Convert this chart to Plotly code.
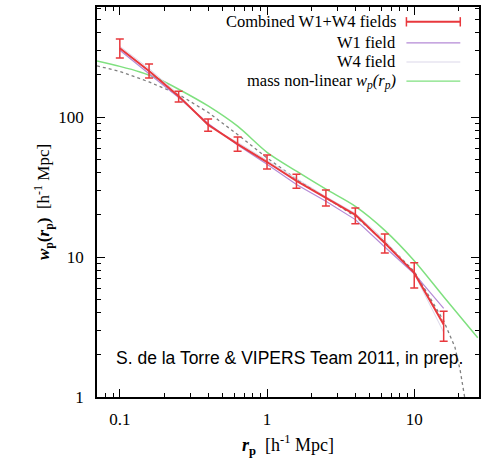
import plotly.graph_objects as go

# Combined W1+W4 measurements
rp = [0.1, 0.158, 0.251, 0.398, 0.631, 1.0, 1.585, 2.512, 3.981, 6.31, 10.0, 15.85]
wp_comb = [310, 213, 141, 88, 64, 47.7, 35, 26.4, 20, 12.6, 7.7, 3.3]
wp_hi = [361, 239, 153, 97, 72, 53.5, 39, 30.1, 22.4, 14.6, 9.1, 4.1]
wp_lo = [264, 190, 128, 79, 57, 42.5, 31, 23.1, 17.3, 10.7, 6.0, 2.5]

# W1 and W4 fields
wp_w1 = [300, 205, 138, 90, 63, 46, 33, 25, 18.5, 11.8, 7.6, 4.3]
wp_w4 = [320, 222, 145, 86, 66, 49, 36, 27, 20.5, 13.2, 7.6, 2.9]

# mass non-linear model
rp_nl = [0.07, 0.1, 0.137, 0.178, 0.251, 0.398, 0.631, 1.0, 1.585, 2.512, 3.981, 6.31, 10.0, 15.85, 27.0]
wp_nl = [251, 230, 210, 190, 158, 120, 86, 56, 41, 30.5, 23, 15.5, 9.4, 5.2, 2.65]

# dotted model
rp_dot = [0.07, 0.1, 0.158, 0.251, 0.398, 0.631, 1.0, 1.585, 2.512, 3.981, 6.31, 10.0, 15.85, 18.9, 20.5, 22.0]
wp_dot = [232, 212, 178, 145, 108, 75, 51, 36, 26.5, 19.5, 12.8, 7.9, 3.5, 2.27, 1.56, 1.0]

RED = "#e8383d"
PURPLE = "#b48ad6"
W4C = "#dcd8ea"
GREEN = "#7fe07f"

err_plus = [h - v for h, v in zip(wp_hi, wp_comb)]
err_minus = [v - l for l, v in zip(wp_lo, wp_comb)]

fig = go.Figure()
fig.add_trace(go.Scatter(x=rp_nl, y=wp_nl, mode="lines", line=dict(color=GREEN, width=1.5, shape="spline", smoothing=0.8), showlegend=False))
fig.add_trace(go.Scatter(x=rp_dot, y=wp_dot, mode="lines", line=dict(color="#808080", width=1.3, dash="dot"), showlegend=False))
fig.add_trace(go.Scatter(x=rp, y=wp_w4, mode="lines", line=dict(color=W4C, width=1), showlegend=False))
fig.add_trace(go.Scatter(x=rp, y=wp_w1, mode="lines", line=dict(color=PURPLE, width=1.2), showlegend=False))
fig.add_trace(go.Scatter(x=rp, y=wp_comb, mode="lines", line=dict(color=RED, width=2),
                         error_y=dict(type="data", symmetric=False, array=err_plus, arrayminus=err_minus,
                                      color=RED, thickness=1.5, width=4),
                         showlegend=False))

serif = "Liberation Serif, Times New Roman, serif"

minor_x = [m * d for d in [0.01, 0.1, 1, 10] for m in range(2, 10)]
minor_y = [m * d for d in [1, 10, 100] for m in range(2, 10)]

fig.update_xaxes(type="log", range=[-1.155, 1.44], tickvals=[0.1, 1, 10], ticktext=["0.1", "1", "10"],
                 ticks="inside", ticklen=8, tickcolor="black", showline=True, linecolor="black", linewidth=1.5,
                 mirror="allticks", showgrid=False, zeroline=False, ticklabelstandoff=6,
                 minor=dict(tickvals=minor_x, ticks="inside", ticklen=4, tickcolor="black", showgrid=False),
                 tickfont=dict(family=serif, size=17, color="black"),
                 title=dict(text="<b><i>r</i><sub>p</sub></b>  [h<sup>-1</sup> Mpc]", font=dict(family=serif, size=18, color="black"), standoff=10))
fig.update_yaxes(type="log", range=[0, 2.786], tickvals=[1, 10, 100], ticktext=["1", "10", "100"],
                 ticks="inside", ticklen=8, tickcolor="black", showline=True, linecolor="black", linewidth=1.5,
                 mirror="allticks", showgrid=False, zeroline=False, ticklabelstandoff=8,
                 minor=dict(tickvals=minor_y, ticks="inside", ticklen=4, tickcolor="black", showgrid=False),
                 tickfont=dict(family=serif, size=17, color="black"),
                 title=dict(text="<b><i>w</i><sub>p</sub>(<i>r</i><sub>p</sub>)</b>  [h<sup>-1</sup> Mpc]", font=dict(family=serif, size=17, color="black"), standoff=4))

# custom legend (text right-aligned, sample on right)
leg_rows = [
    ("Combined W1+W4 fields", RED, 0.962),
    ("W1 field", PURPLE, 0.908),
    ("W4 field", W4C, 0.859),
    ("mass non-linear <i>w<sub>p</sub>(r<sub>p</sub>)</i>", GREEN, 0.81),
]
shapes = []
annotations = []
x0, x1 = 0.81, 0.951
for txt, col, yy in leg_rows:
    annotations.append(dict(x=0.789, y=yy, xref="paper", yref="paper", text=txt, showarrow=False,
                            xanchor="right", yanchor="middle", font=dict(family=serif, size=16.5, color="black")))
    w = 2 if col == RED else 1.2
    shapes.append(dict(type="line", xref="paper", yref="paper", x0=x0, x1=x1, y0=yy, y1=yy, line=dict(color=col, width=w)))
    if col == RED:
        for xe in (x0, x1):
            shapes.append(dict(type="line", xref="paper", yref="paper", x0=xe, x1=xe, y0=yy - 0.012, y1=yy + 0.012,
                               line=dict(color=col, width=1.5)))

annotations.append(dict(x=0.503, y=0.1, xref="paper", yref="paper", text="S. de la Torre &amp; VIPERS Team 2011, in prep.",
                        showarrow=False, xanchor="center", yanchor="middle",
                        font=dict(family="Liberation Sans, Arial, sans-serif", size=17.5, color="black")))

fig.update_layout(width=484, height=461, margin=dict(l=97, r=3, t=7, b=64),
                  plot_bgcolor="white", paper_bgcolor="white", shapes=shapes, annotations=annotations,
                  showlegend=False)

fig.write_html("out.html", config={"displayModeBar": False}, post_script="document.body.style.margin='0';")
